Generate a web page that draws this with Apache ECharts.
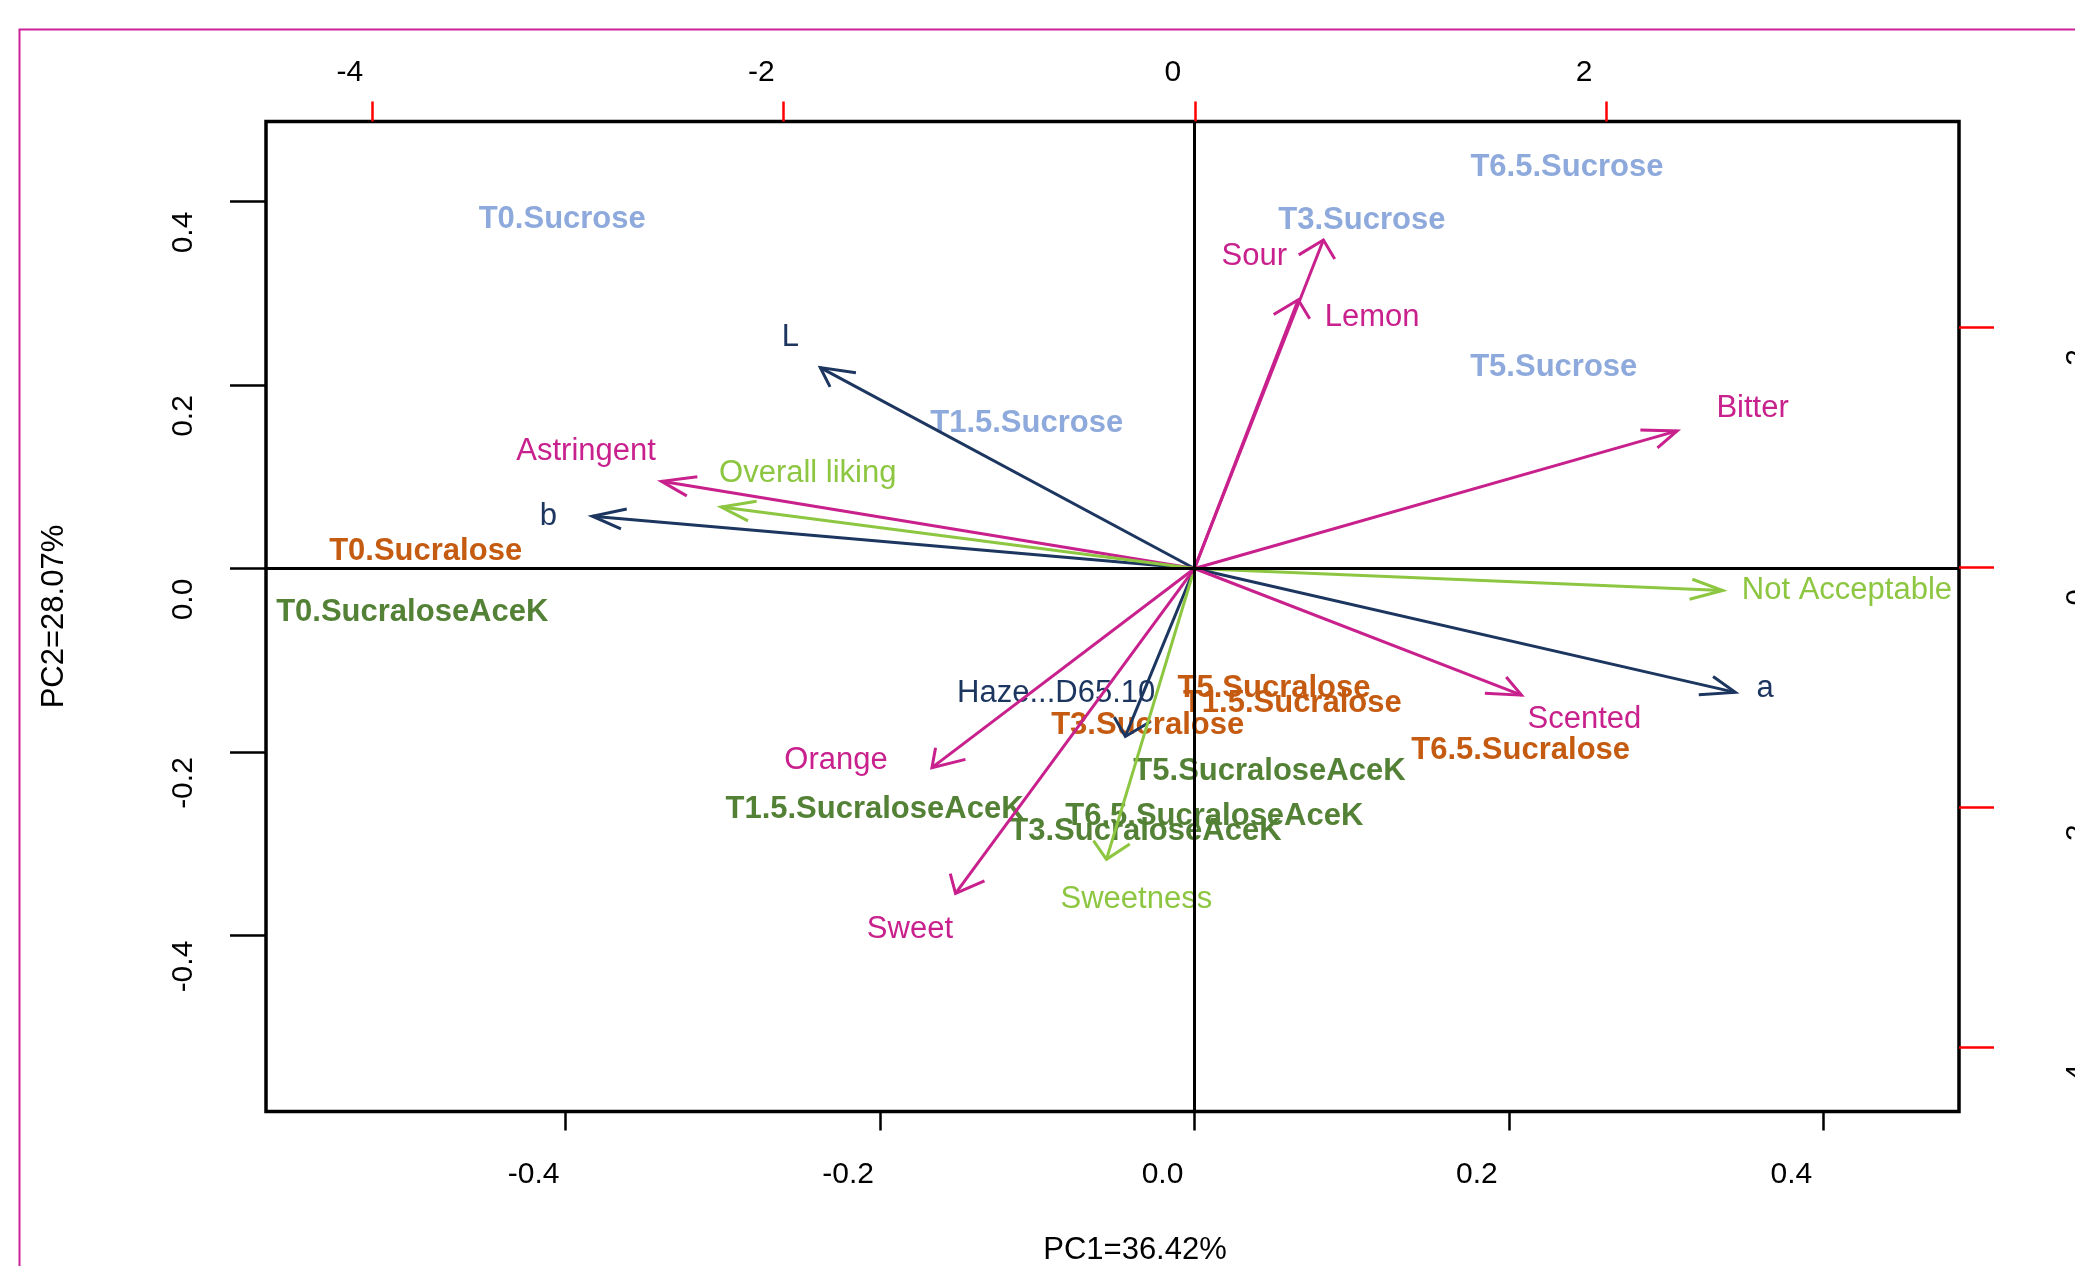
<!DOCTYPE html>
<html><head><meta charset="utf-8">
<script src="https://cdn.jsdelivr.net/npm/echarts@6/dist/echarts.min.js"></script>
<style>html,body{margin:0;padding:0;background:#fff;overflow:hidden}#c{width:2075px;height:1266px}</style>
</head><body><div id="c"></div>
<script>
// ---- variable loadings (bottom / left axes) ----
const varNames = ['L','b','Astringent','Overall liking','Sour','Lemon','Bitter','Not Acceptable','a','Scented','Haze...D65.10','Orange','Sweetness','Sweet'];
const varPC1 = [-0.238, -0.383, -0.339, -0.301, 0.082, 0.066, 0.307, 0.336, 0.344, 0.208, -0.044, -0.167, -0.056, -0.152];
const varPC2 = [0.219, 0.057, 0.095, 0.067, 0.358, 0.293, 0.150, -0.024, -0.135, -0.138, -0.183, -0.217, -0.317, -0.354];
const varLabelPC1 = [-0.257, -0.411, -0.387, -0.246, 0.038, 0.113, 0.355, 0.415, 0.363, 0.248, -0.088, -0.228, -0.037, -0.181];
const varLabelPC2 = [0.252, 0.057, 0.128, 0.104, 0.340, 0.274, 0.175, -0.024, -0.131, -0.164, -0.136, -0.209, -0.361, -0.393];
const varGroup = ['instr','instr','sensory','consumer','sensory','sensory','sensory','consumer','instr','sensory','instr','sensory','consumer','sensory'];

// ---- sample scores (top / right axes) ----
const sampleNames = ['T0.Sucrose','T1.5.Sucrose','T3.Sucrose','T5.Sucrose','T6.5.Sucrose',
  'T0.Sucralose','T1.5.Sucralose','T3.Sucralose','T5.Sucralose','T6.5.Sucralose',
  'T0.SucraloseAceK','T1.5.SucraloseAceK','T3.SucraloseAceK','T5.SucraloseAceK','T6.5.SucraloseAceK'];
const samplePC1 = [-3.075, -0.817, 0.812, 1.745, 1.809, -3.739, 0.474, -0.229, 0.385, 1.584, -3.804, -1.557, -0.240, 0.363, 0.095];
const samplePC2 = [2.904, 1.202, 2.896, 1.665, 3.335, 0.138, -1.132, -1.313, -1.007, -1.521, -0.371, -2.015, -2.202, -1.702, -2.077];
const sampleGroup = ['Sucrose','Sucrose','Sucrose','Sucrose','Sucrose','Sucralose','Sucralose','Sucralose','Sucralose','Sucralose','AceK','AceK','AceK','AceK','AceK'];

// ---- axes ----
const loadTicks = [-0.4, -0.2, 0, 0.2, 0.4];
const scoreTicksX = [-4, -2, 0, 2];
const scoreTicksY = [-4, -2, 0, 2];
const xTitle = 'PC1=36.42%';
const yTitle = 'PC2=28.07%';

const varColors = {instr:'#1C3660', sensory:'#C8208C', consumer:'#8DC641'};
const sampleColors = {Sucrose:'#8EA9DB', Sucralose:'#C55A11', AceK:'#538135'};
const FONT = '"Liberation Sans", Arial, sans-serif';

const chart = echarts.init(document.getElementById('c'), null, {renderer:'canvas'});

function renderArrow(params, api) {
  const i = api.value(4);
  const o = api.coord([0, 0]);
  const t = api.coord([api.value(0), api.value(1)]);
  const l = api.coord([api.value(2), api.value(3)]);
  const K = 1.84, LEN = 20, ANG = Math.PI / 6;
  let dx = (o[0] - t[0]) / K, dy = o[1] - t[1];
  const n = Math.hypot(dx, dy); dx /= n; dy /= n;
  const barb = s => {
    const c = Math.cos(s * ANG), sn = Math.sin(s * ANG);
    const rx = dx * c - dy * sn, ry = dx * sn + dy * c;
    return [t[0] + rx * LEN * K, t[1] + ry * LEN];
  };
  const color = varColors[varGroup[i]];
  return {type:'group', children:[
    {type:'line', shape:{x1:o[0], y1:o[1], x2:t[0], y2:t[1]}, style:{stroke:color, lineWidth:3}},
    {type:'polyline', shape:{points:[barb(1), t, barb(-1)]}, style:{stroke:color, lineWidth:3, fill:'none'}},
    {type:'text', style:{text:varNames[i], x:l[0], y:l[1], fill:color, font:'31px ' + FONT, align:'center', verticalAlign:'middle'}}
  ]};
}

function renderSample(params, api) {
  const i = api.value(2);
  const p = api.coord([api.value(0), api.value(1)]);
  return {type:'text', style:{text:sampleNames[i], x:p[0], y:p[1], fill:sampleColors[sampleGroup[i]], font:'bold 31px ' + FONT, align:'center', verticalAlign:'middle'}};
}

const labelStyle = {fontSize:30, color:'#000', fontFamily:FONT};
const noLine = {show:false, onZero:false};

chart.setOption({
  animation:false,
  backgroundColor:'#fff',
  graphic:[{type:'rect', left:17, top:27, shape:{width:2300, height:1400}, style:{stroke:'#CC2299', lineWidth:2, fill:'none'}, z:0}],
  grid:{left:266, right:116, top:121.6, bottom:154.5, show:true, borderColor:'#000', borderWidth:3.5, backgroundColor:'transparent', containLabel:false, outerBoundsMode:'none'},
  xAxis:[
    {type:'value', position:'bottom', min:-0.5906, max:0.4863,
     axisLine:noLine, splitLine:{show:false},
     axisTick:{show:true, inside:false, length:19, customValues:loadTicks, lineStyle:{color:'#000', width:2.5}},
     axisLabel:Object.assign({customValues:loadTicks, formatter:v=>Number(v).toFixed(1), margin:48, padding:[0,64,0,0]}, labelStyle),
     name:xTitle, nameLocation:'middle', nameGap:123, nameTextStyle:{fontSize:31, color:'#000', fontFamily:FONT, padding:[0,0,0,45]}},
    {type:'value', position:'top', min:-4.515, max:3.715,
     axisLine:noLine, splitLine:{show:false},
     axisTick:{show:true, inside:false, length:20, customValues:scoreTicksX, lineStyle:{color:'#FF0000', width:2.5}},
     axisLabel:Object.assign({customValues:scoreTicksX, formatter:v=>String(Math.round(v)), margin:34, padding:[0,44,0,0]}, labelStyle)}
  ],
  yAxis:[
    {type:'value', position:'left', min:-0.5918, max:0.4871,
     axisLine:noLine, splitLine:{show:false},
     axisTick:{show:true, inside:false, length:36, customValues:loadTicks, lineStyle:{color:'#000', width:2.5}},
     axisLabel:Object.assign({customValues:loadTicks, formatter:v=>Number(v).toFixed(1), rotate:90, margin:67, padding:[0,62,0,0]}, labelStyle),
     name:yTitle, nameLocation:'middle', nameRotate:90, nameGap:196, nameTextStyle:{fontSize:31, color:'#000', fontFamily:FONT}},
    {type:'value', position:'right', min:-4.533, max:3.716,
     axisLine:noLine, splitLine:{show:false},
     axisTick:{show:true, inside:false, length:35, customValues:scoreTicksY, lineStyle:{color:'#FF0000', width:2.5}},
     axisLabel:Object.assign({customValues:scoreTicksY, formatter:v=>String(Math.round(v)), rotate:90, margin:104, padding:[0,60,0,0]}, labelStyle)}
  ],
  series:[
    {type:'custom', name:'samples', xAxisIndex:1, yAxisIndex:1, z:2,
     data:sampleNames.map((n,i)=>[samplePC1[i], samplePC2[i], i]),
     renderItem:renderSample, silent:true},
    {type:'custom', name:'variables', xAxisIndex:0, yAxisIndex:0, z:4,
     data:varNames.map((n,i)=>[varPC1[i], varPC2[i], varLabelPC1[i], varLabelPC2[i], i]),
     renderItem:renderArrow, silent:true,
     markLine:{silent:true, symbol:['none','none'], label:{show:false}, lineStyle:{color:'#000', width:3, type:'solid'},
       data:[{xAxis:0},{yAxis:0}]}}
  ]
});
</script></body></html>
